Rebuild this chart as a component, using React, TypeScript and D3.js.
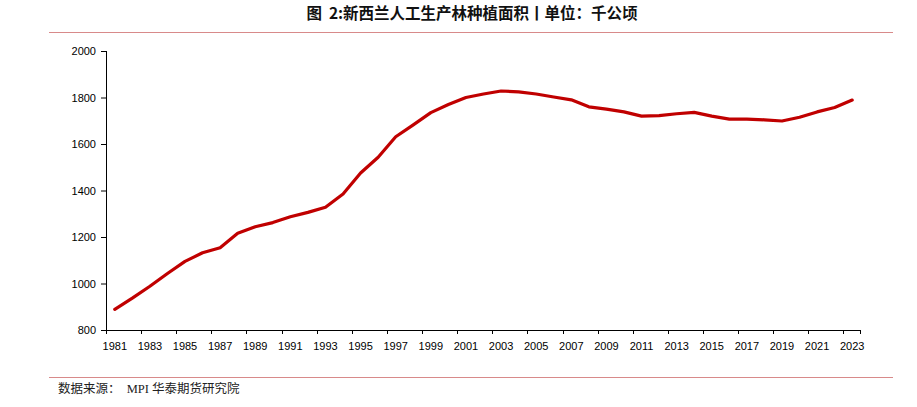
import React from "react";
import * as d3 from "d3";

const years: number[] = d3.range(1981, 2024);
const values: number[] = [
  889, 937, 988, 1043, 1095, 1132, 1154, 1216, 1244, 1262,
  1287, 1306, 1328, 1385, 1475, 1543, 1631, 1682, 1735, 1770,
  1800, 1815, 1828, 1824, 1815, 1802, 1790, 1760, 1750, 1738,
  1720, 1722, 1730, 1736, 1720, 1707, 1707, 1704, 1699, 1715,
  1738, 1757, 1789,
];
const yTicks: number[] = [800, 1000, 1200, 1400, 1600, 1800, 2000];
const title = "图  2:新西兰人工生产林种植面积丨单位：千公顷";
const source = "数据来源：  MPI 华泰期货研究院";

export default function App() {
  const W = 917, H = 407;
  const left = 106, right = 861, top = 51, bottom = 330;
  const x = d3.scaleBand<number>().domain(years).range([left, right]).padding(0);
  const y = d3.scaleLinear().domain([800, 2000]).range([bottom, top]);
  const line = d3
    .line<number>()
    .x((_, i) => (x(years[i]) as number) + x.bandwidth() / 2)
    .y((d) => y(d));
  const tickFont = "'Liberation Sans', Arial, sans-serif";
  return (
    <svg width={W} height={H} style={{ position: "absolute", left: 0, top: 0, background: "#fff" }}>
      <text x={472} y={19} textAnchor="middle" fontFamily="'Noto Sans CJK SC', sans-serif" fontWeight="bold" fontSize={15.5} fill="#111" style={{ whiteSpace: "pre" }}>
        {title}
      </text>
      <line x1={49} x2={893} y1={32.5} y2={32.5} stroke="#d88a8a" strokeWidth={1.2} />
      <line x1={49} x2={893} y1={377.5} y2={377.5} stroke="#d88a8a" strokeWidth={1.2} />
      <text x={58} y={393} fontFamily="'Liberation Serif', 'Noto Sans CJK SC', serif" fontSize={12.5} fill="#222" style={{ whiteSpace: "pre" }}>
        {source}
      </text>
      {/* y axis */}
      <line x1={left + 0.5} x2={left + 0.5} y1={top} y2={bottom} stroke="#000" strokeWidth={1} />
      {yTicks.map((t) => (
        <g key={t}>
          <line x1={left - 5} x2={left} y1={y(t) + 0.5} y2={y(t) + 0.5} stroke="#000" />
          <text x={left - 10} y={y(t) + 4} textAnchor="end" fontFamily={tickFont} fontSize={11} fill="#000">
            {t}
          </text>
        </g>
      ))}
      {/* x axis */}
      <line x1={left} x2={right} y1={bottom + 0.5} y2={bottom + 0.5} stroke="#000" strokeWidth={1} />
      {years.map((yr, i) =>
        i % 2 === 0 ? (
          <g key={yr}>
            <line x1={Math.round(x(yr) as number) + 0.5} x2={Math.round(x(yr) as number) + 0.5} y1={bottom} y2={bottom + 4} stroke="#000" />
            <text x={(x(yr) as number) + x.bandwidth() / 2} y={bottom + 20} textAnchor="middle" fontFamily={tickFont} fontSize={11} fill="#000">
              {yr}
            </text>
          </g>
        ) : null
      )}
      <line x1={right - 0.5} x2={right - 0.5} y1={bottom} y2={bottom + 4} stroke="#000" />
      <path d={line(values) as string} fill="none" stroke="#c00000" strokeWidth={3.2} strokeLinejoin="round" strokeLinecap="round" />
    </svg>
  );
}
